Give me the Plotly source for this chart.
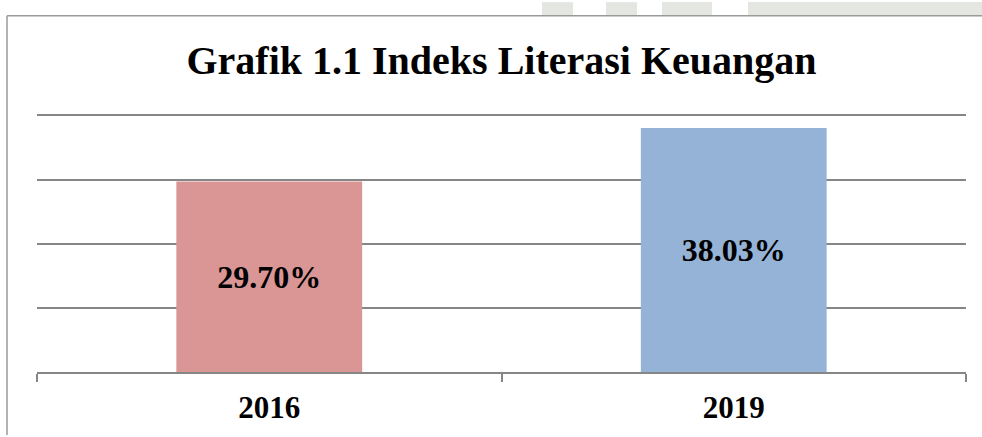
import plotly.graph_objects as go

categories = ["2016", "2019"]
values = [29.70, 38.03]
labels = ["29.70%", "38.03%"]
bar_colors = ["#D99694", "#95B3D7"]
title_text = "Grafik 1.1 Indeks Literasi Keuangan"

W, H = 982, 437
ML, MR, MB = 37, 16, 61
UNIT = 6.52          # pixels per percentage point
YMAX = 41
PW = W - ML - MR
PH = UNIT * YMAX
MT = H - MB - PH

def px(x):
    return (x - ML) / PW

def py(y):
    return (H - MB - y) / PH

font_family = "Liberation Serif, Times New Roman, serif"

fig = go.Figure(
    go.Bar(
        x=categories,
        y=values,
        text=labels,
        textposition="inside",
        insidetextanchor="middle",
        textfont=dict(family=font_family, size=32, color="black", weight="bold"),
        marker=dict(color=bar_colors, line=dict(width=0)),
        hoverinfo="skip",
    )
)

shapes = []
# faint watermark fragments at the top strip
for x0, x1 in [(542, 573), (606, 637), (662, 712), (748, 982)]:
    shapes.append(dict(type="rect", xref="paper", yref="paper",
                       x0=px(x0), x1=px(x1), y0=py(14), y1=py(0),
                       fillcolor="#e4e6e2", line=dict(width=0), layer="below"))
# outer frame (left and top edges visible)
shapes.append(dict(type="line", xref="paper", yref="paper",
                   x0=px(7), x1=px(7), y0=py(14), y1=py(440),
                   line=dict(color="#9a9a9a", width=1.5)))
shapes.append(dict(type="line", xref="paper", yref="paper",
                   x0=px(7), x1=px(985), y0=py(14), y1=py(14),
                   line=dict(color="#9a9a9a", width=1.5)))

fig.update_layout(
    width=W, height=H,
    margin=dict(l=ML, r=MR, t=MT, b=MB, pad=0),
    paper_bgcolor="white", plot_bgcolor="white",
    showlegend=False,
    bargap=0.6,
    title=dict(text=title_text, x=0.5, xref="paper",
               y=1 - 60 / H, yref="container", yanchor="middle", xanchor="center",
               font=dict(family=font_family, size=40, color="black", weight="bold")),
    xaxis=dict(
        type="category",
        showline=True, linecolor="#868686", linewidth=1.5,
        ticks="outside", tickson="boundaries", ticklen=8, tickwidth=1.5, tickcolor="#868686",
        tickfont=dict(family=font_family, size=31, color="black", weight="bold"),
        ticklabelstandoff=7,
        showgrid=False, zeroline=False, fixedrange=True,
    ),
    yaxis=dict(
        range=[0, YMAX], tick0=0, dtick=10,
        showgrid=True, gridcolor="#868686", gridwidth=1.5,
        showticklabels=False, ticks="", zeroline=False, showline=False,
        fixedrange=True,
    ),
    shapes=shapes,
)

fig.write_html("out.html", post_script="document.body.style.margin='0';",
               config={"displayModeBar": False})
